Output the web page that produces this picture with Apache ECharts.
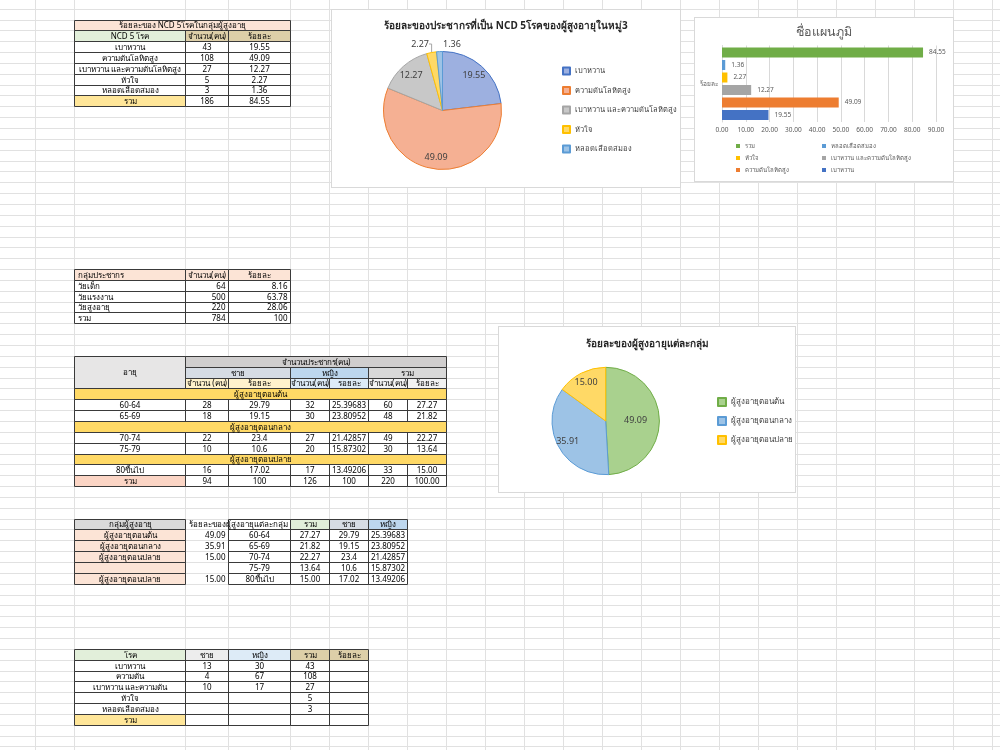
<!DOCTYPE html>
<html lang="th">
<head>
<meta charset="UTF-8">
<title>ร้อยละ NCD ผู้สูงอายุ</title>
<script src="https://cdn.jsdelivr.net/npm/echarts@6.0.0/dist/echarts.min.js"></script>
<style>
    body { margin: 0; background: #fff; }
    #sheet { position: absolute; left: 0; top: 0; width: 1000px; height: 750px; }
    .box { position: absolute; background: #fff; border: 1px solid #D9D9D9; box-sizing: border-box; }
    #pie1 { left: 331px; top: 9px; width: 350px; height: 179px; }
    #bar { left: 694px; top: 17px; width: 260px; height: 165px; }
    #pie2 { left: 498px; top: 326px; width: 298px; height: 167px; }
</style>
</head>
<body>
<div id="sheet"></div>
<div id="pie1" class="box"></div>
<div id="bar" class="box"></div>
<div id="pie2" class="box"></div>

<script type="text/javascript">
    var FONT = "'Noto Sans', 'DejaVu Sans', sans-serif";

    // NCD 5 โรค ในกลุ่มผู้สูงอายุ
    var ncdNames = ['เบาหวาน', 'ความดันโลหิตสูง', 'เบาหวาน และความดันโลหิตสูง', 'หัวใจ', 'หลอดเลือดสมอง'];
    var ncdCounts = [43, 108, 27, 5, 3];
    var ncdPercent = [19.55, 49.09, 12.27, 2.27, 1.36];
    var ncdTotal = ['รวม', 186, 84.55];

    // กลุ่มประชากร
    var popGroups = ['วัยเด็ก', 'วัยแรงงาน', 'วัยสูงอายุ', 'รวม'];
    var popCounts = [64, 500, 220, 784];
    var popPercent = ['8.16', '63.78', '28.06', '100'];

    // ผู้สูงอายุแต่ละช่วงอายุ
    var ageRanges = ['60-64', '65-69', '70-74', '75-79', '80ขึ้นไป'];
    var maleCount = [28, 18, 22, 10, 16];
    var malePct = ['29.79', '19.15', '23.4', '10.6', '17.02'];
    var femaleCount = [32, 30, 27, 20, 17];
    var femalePct = ['25.39683', '23.80952', '21.42857', '15.87302', '13.49206'];
    var sumCount = [60, 48, 49, 30, 33];
    var sumPct = ['27.27', '21.82', '22.27', '13.64', '15.00'];
    var ageTotals = ['รวม', 94, '100', 126, '100', 220, '100.00'];

    // ผู้สูงอายุแต่ละกลุ่ม
    var elderGroups = ['ผู้สูงอายุตอนต้น', 'ผู้สูงอายุตอนกลาง', 'ผู้สูงอายุตอนปลาย'];
    var elderPercent = [49.09, 35.91, 15.00];
    var t4Groups = ['ผู้สูงอายุตอนต้น', 'ผู้สูงอายุตอนกลาง', 'ผู้สูงอายุตอนปลาย', '', 'ผู้สูงอายุตอนปลาย'];
    var t4Pct = ['49.09', '35.91', '15.00', '', '15.00'];

    // โรค แยกเพศ
    var diseaseShort = ['เบาหวาน', 'ความดัน', 'เบาหวาน และความดัน', 'หัวใจ', 'หลอดเลือดสมอง'];
    var diseaseMale = [13, 4, 10, '', ''];
    var diseaseFemale = [30, 67, 17, '', ''];

    // แกน x ของแผนภูมิแท่ง
    var barAxisMax = 90, barAxisStep = 10;

    /* ---------- ตารางในแผ่นงาน ---------- */
    var colX = [0, 34.5, 73.5, 184.5, 228, 289.5];
    for (var cx = 329; cx <= 1000; cx += 39) colX.push(cx);
    var RH = 10.85, ROW0 = 19.5;
    function rowY(k) { return ROW0 + k * RH; }
    function px(v) { return Math.round(v) + 0.5; }

    var els = [];
    colX.forEach(function (x) {
        if (x > 0) els.push({type: 'line', silent: true, z: 1, shape: {x1: px(x), y1: 0, x2: px(x), y2: 750}, style: {stroke: '#E1E1E1', lineWidth: 1}});
    });
    for (var k = -1; rowY(k) < 750; k++) {
        els.push({type: 'line', silent: true, z: 1, shape: {x1: 0, y1: px(rowY(k)), x2: 1000, y2: px(rowY(k))}, style: {stroke: '#E1E1E1', lineWidth: 1}});
    }

    function cell(c0, c1, k0, k1, text, fill, align, border) {
        var x = px(colX[c0]), x2 = px(colX[c1 + 1]), y = px(rowY(k0)), y2 = px(rowY(k1 + 1));
        if (fill !== null) els.push({type: 'rect', silent: true, z: 10, shape: {x: x, y: y, width: x2 - x, height: y2 - y}, style: {fill: fill || '#fff'}});
        if (border !== false) els.push({type: 'rect', silent: true, z: 12, shape: {x: x, y: y, width: x2 - x, height: y2 - y}, style: {fill: null, stroke: '#3A3A3A', lineWidth: 1}});
        if (text !== '' && text != null) {
            var tx = align === 'left' ? x + 3 : align === 'right' ? x2 - 3 : (x + x2) / 2;
            els.push({type: 'text', silent: true, z: 13, style: {text: String(text), x: tx, y: (y + y2) / 2 + 0.5, align: align || 'center', verticalAlign: 'middle', font: '8px ' + FONT, fill: '#000'}});
        }
    }

    var TAN = '#DDCFA8', PINK = '#FCE4D6', GREEN = '#E2EFDA', GOLD = '#FFD966', LYEL = '#FFE699';

    // ตาราง 1
    cell(2, 4, 0, 0, 'ร้อยละของ NCD 5โรคในกลุ่มผู้สูงอายุ', PINK);
    cell(2, 2, 1, 1, 'NCD 5 โรค', GREEN);
    cell(3, 3, 1, 1, 'จำนวน(คน)', TAN);
    cell(4, 4, 1, 1, 'ร้อยละ', TAN);
    ncdNames.forEach(function (n, i) {
        cell(2, 2, 2 + i, 2 + i, n);
        cell(3, 3, 2 + i, 2 + i, ncdCounts[i]);
        cell(4, 4, 2 + i, 2 + i, ncdPercent[i].toFixed(2));
    });
    cell(2, 2, 7, 7, ncdTotal[0], LYEL);
    cell(3, 3, 7, 7, ncdTotal[1]);
    cell(4, 4, 7, 7, ncdTotal[2].toFixed(2));

    // ตาราง 2
    cell(2, 2, 23, 23, 'กลุ่มประชากร', PINK, 'left');
    cell(3, 3, 23, 23, 'จำนวน(คน)', PINK);
    cell(4, 4, 23, 23, 'ร้อยละ', PINK);
    popGroups.forEach(function (g, i) {
        cell(2, 2, 24 + i, 24 + i, g, null, 'left');
        cell(3, 3, 24 + i, 24 + i, popCounts[i], null, 'right');
        cell(4, 4, 24 + i, 24 + i, popPercent[i], null, 'right');
    });

    // ตาราง 3
    cell(2, 2, 31, 33, 'อายุ', '#E7E6E6');
    cell(3, 8, 31, 31, 'จำนวนประชากร(คน)', '#D0CECE');
    cell(3, 4, 32, 32, 'ชาย', '#D6DCE4');
    cell(5, 6, 32, 32, 'หญิง', '#BDD7EE');
    cell(7, 8, 32, 32, 'รวม', '#D9D9D9');
    cell(3, 3, 33, 33, 'จำนวน (คน)', '#FFF2CC');
    cell(4, 4, 33, 33, 'ร้อยละ', '#FFF2CC');
    cell(5, 5, 33, 33, 'จำนวน(คน)', '#DDEBF7');
    cell(6, 6, 33, 33, 'รอยละ', '#DDEBF7');
    cell(7, 7, 33, 33, 'จำนวน(คน)', '#F2F2F2');
    cell(8, 8, 33, 33, 'ร้อยละ', '#F2F2F2');
    var groupOf = [0, 0, 1, 1, 2];
    var r = 34;
    ageRanges.forEach(function (a, i) {
        if (i === 0 || groupOf[i] !== groupOf[i - 1]) {
            cell(2, 8, r, r, elderGroups[groupOf[i]], GOLD);
            r++;
        }
        var vals = [a, maleCount[i], malePct[i], femaleCount[i], femalePct[i], sumCount[i], sumPct[i]];
        vals.forEach(function (v, j) { cell(2 + j, 2 + j, r, r, v); });
        r++;
    });
    ageTotals.forEach(function (v, j) { cell(2 + j, 2 + j, r, r, v, j === 0 ? '#FBD5C5' : null); });

    // ตาราง 4
    cell(2, 2, 46, 46, 'กลุ่มผู้สูงอายุ', '#D9D9D9');
    cell(4, 4, 46, 46, '');
    cell(3, 3, 46, 46, 'ร้อยละของผู้สูงอายุแต่ละกลุ่ม', null, 'left', false);
    cell(5, 5, 46, 46, 'รวม', GREEN);
    cell(6, 6, 46, 46, 'ชาย', '#D6DCE4');
    cell(7, 7, 46, 46, 'หญิง', '#BDD7EE');
    ageRanges.forEach(function (a, i) {
        var k = 47 + i;
        cell(2, 2, k, k, t4Groups[i], PINK);
        cell(3, 3, k, k, t4Pct[i], null, 'right', false);
        cell(4, 4, k, k, a);
        cell(5, 5, k, k, sumPct[i]);
        cell(6, 6, k, k, malePct[i]);
        cell(7, 7, k, k, femalePct[i]);
    });

    // ตาราง 5
    cell(2, 2, 58, 58, 'โรค', GREEN);
    cell(3, 3, 58, 58, 'ชาย', '#EDEDED');
    cell(4, 4, 58, 58, 'หญิง', '#DDEBF7');
    cell(5, 5, 58, 58, 'รวม', TAN);
    cell(6, 6, 58, 58, 'ร้อยละ', TAN);
    diseaseShort.forEach(function (d, i) {
        var k = 59 + i;
        cell(2, 2, k, k, d);
        cell(3, 3, k, k, diseaseMale[i]);
        cell(4, 4, k, k, diseaseFemale[i]);
        cell(5, 5, k, k, ncdCounts[i]);
        cell(6, 6, k, k, '');
    });
    cell(2, 2, 64, 64, 'รวม', LYEL);
    for (var c = 3; c <= 6; c++) cell(c, c, 64, 64, '');

    var sheet = echarts.init(document.getElementById('sheet'));
    sheet.setOption({animation: false, graphic: {elements: els}});

    /* ---------- พาย 1 ---------- */
    var pie1Fill = ['#9DB0E0', '#F5B093', '#C8C8C8', '#FFD966', '#9DC3E6'];
    var pie1Edge = ['#4472C4', '#ED7D31', '#A5A5A5', '#FFC000', '#5B9BD5'];
    var R1 = 59;
    var pie1 = echarts.init(document.getElementById('pie1'));
    pie1.setOption({
        animation: false,
        textStyle: {fontFamily: FONT},
        title: {
            text: 'ร้อยละของประชากรที่เป็น NCD 5โรคของผู้สูงอายุในหมู่3',
            left: 'center', top: 6,
            textStyle: {fontSize: 10, fontWeight: 'bold', color: '#262626', fontFamily: FONT}
        },
        legend: {
            orient: 'vertical', left: 230, top: 56, padding: 0, height: 110,
            itemWidth: 7, itemHeight: 7, itemGap: 9.5, icon: 'rect',
            textStyle: {fontSize: 7.5, lineHeight: 10, color: '#404040', fontFamily: FONT},
            data: ncdNames
        },
        series: [{
            type: 'pie', center: [110.5, 100.5], radius: R1, startAngle: 90, clockwise: true,
            label: {show: false},
            labelLine: {show: true, length: 4, length2: 3, lineStyle: {color: '#A6A6A6'}},
            labelLayout: function (p) {
                if (p.dataIndex === 3) return {x: 97, y: 34, align: 'right', verticalAlign: 'middle'};
                if (p.dataIndex === 4) return {x: 111, y: 34, align: 'left', verticalAlign: 'middle'};
            },
            emphasis: {disabled: true},
            data: ncdNames.map(function (n, i) {
                return {
                    name: n, value: ncdPercent[i],
                    itemStyle: {color: pie1Fill[i], borderColor: pie1Edge[i], borderWidth: 1},
                    label: i >= 3 ? {show: true, position: 'outside', fontSize: 9, color: '#404040', formatter: function (p) { return p.value.toFixed(2); }} : {show: false},
                    labelLine: {show: i === 3}
                };
            })
        }, {
            type: 'pie', center: [110.5, 100.5], radius: R1 * 1.5, startAngle: 90, clockwise: true,
            silent: true, emphasis: {disabled: true}, z: 3,
            itemStyle: {color: 'transparent', borderWidth: 0},
            labelLine: {show: false},
            label: {show: true, position: 'inside', fontSize: 9, color: '#404040', textBorderWidth: 0,
                formatter: function (p) { return p.dataIndex < 3 ? p.value.toFixed(2) : ''; }},
            data: ncdNames.map(function (n, i) { return {name: n, value: ncdPercent[i]}; })
        }]
    });

    /* ---------- แผนภูมิแท่ง ---------- */
    // ลำดับจากบนลงล่าง: รวม ... เบาหวาน
    var barNames = [ncdTotal[0]].concat(ncdNames.slice().reverse());
    var barValues = [ncdTotal[2]].concat(ncdPercent.slice().reverse());
    var barColors = ['#70AD47', '#5B9BD5', '#FFC000', '#A5A5A5', '#ED7D31', '#4472C4'];
    var bar = echarts.init(document.getElementById('bar'));
    var lgText = {fontSize: 6, lineHeight: 6, color: '#595959', fontFamily: FONT};
    bar.setOption({
        animation: false,
        textStyle: {fontFamily: FONT},
        title: {text: 'ชื่อแผนภูมิ', left: 'center', top: 3, textStyle: {fontSize: 12.5, fontWeight: 'normal', color: '#595959', fontFamily: FONT}},
        grid: {left: 27, right: 17, top: 27.5, bottom: 59},
        legend: [
            {orient: 'vertical', left: 41, top: 125, height: 40, padding: 0, itemWidth: 4, itemHeight: 4, itemGap: 6, icon: 'rect', textStyle: lgText, data: ['รวม', 'หัวใจ', 'ความดันโลหิตสูง']},
            {orient: 'vertical', left: 127, top: 125, height: 40, padding: 0, itemWidth: 4, itemHeight: 4, itemGap: 6, icon: 'rect', textStyle: lgText, data: ['หลอดเลือดสมอง', 'เบาหวาน และความดันโลหิตสูง', 'เบาหวาน']}
        ],
        xAxis: {
            type: 'value', min: 0, max: barAxisMax, interval: barAxisStep,
            axisLine: {show: false}, axisTick: {show: false},
            splitLine: {lineStyle: {color: '#D9D9D9'}},
            axisLabel: {fontSize: 6.5, color: '#595959', margin: 5, formatter: function (v) { return v.toFixed(2); }}
        },
        yAxis: {
            type: 'category', data: ['ร้อยละ'],
            axisLine: {lineStyle: {color: '#D9D9D9'}}, axisTick: {show: false},
            axisLabel: {fontSize: 6.5, color: '#595959', margin: 4}
        },
        series: barNames.map(function (n, i) {
            return {
                type: 'bar', name: n, data: [barValues[i]], barWidth: 10, barGap: '25%',
                itemStyle: {color: barColors[i]},
                label: {show: true, position: 'right', distance: 6, fontSize: 6.5, color: '#595959', formatter: function (p) { return p.value.toFixed(2); }}
            };
        })
    });

    /* ---------- พาย 2 ---------- */
    var pie2Fill = ['#A9D18E', '#9DC3E6', '#FFD966'];
    var pie2Edge = ['#70AD47', '#5B9BD5', '#FFC000'];
    var R2 = 53.7;
    var pie2 = echarts.init(document.getElementById('pie2'));
    pie2.setOption({
        animation: false,
        textStyle: {fontFamily: FONT},
        title: {
            text: 'ร้อยละของผู้สูงอายุแต่ละกลุ่ม', left: 'center', top: 7,
            textStyle: {fontSize: 10, fontWeight: 'bold', color: '#262626', fontFamily: FONT}
        },
        legend: {
            orient: 'vertical', left: 218, top: 70, padding: 0, height: 80,
            itemWidth: 8, itemHeight: 8, itemGap: 9, icon: 'rect',
            textStyle: {fontSize: 8, lineHeight: 10, color: '#404040', fontFamily: FONT},
            data: elderGroups
        },
        series: [{
            type: 'pie', center: [106.7, 94], radius: R2, startAngle: 90, clockwise: true,
            labelLine: {show: false}, emphasis: {disabled: true},
            label: {show: true, position: 'inside', fontSize: 9, color: '#404040', textBorderWidth: 0,
                formatter: function (p) { return p.dataIndex === 0 ? p.value.toFixed(2) : ''; }},
            data: elderGroups.map(function (n, i) {
                return {name: n, value: elderPercent[i], itemStyle: {color: pie2Fill[i], borderColor: pie2Edge[i], borderWidth: 1}};
            })
        }, {
            type: 'pie', center: [106.7, 94], radius: R2 * 1.5, startAngle: 90, clockwise: true,
            silent: true, emphasis: {disabled: true}, z: 3,
            itemStyle: {color: 'transparent', borderWidth: 0},
            labelLine: {show: false},
            label: {show: true, position: 'inside', fontSize: 9, color: '#404040', textBorderWidth: 0,
                formatter: function (p) { return p.dataIndex > 0 ? p.value.toFixed(2) : ''; }},
            data: elderGroups.map(function (n, i) { return {name: n, value: elderPercent[i]}; })
        }]
    });
</script>
</body>
</html>
